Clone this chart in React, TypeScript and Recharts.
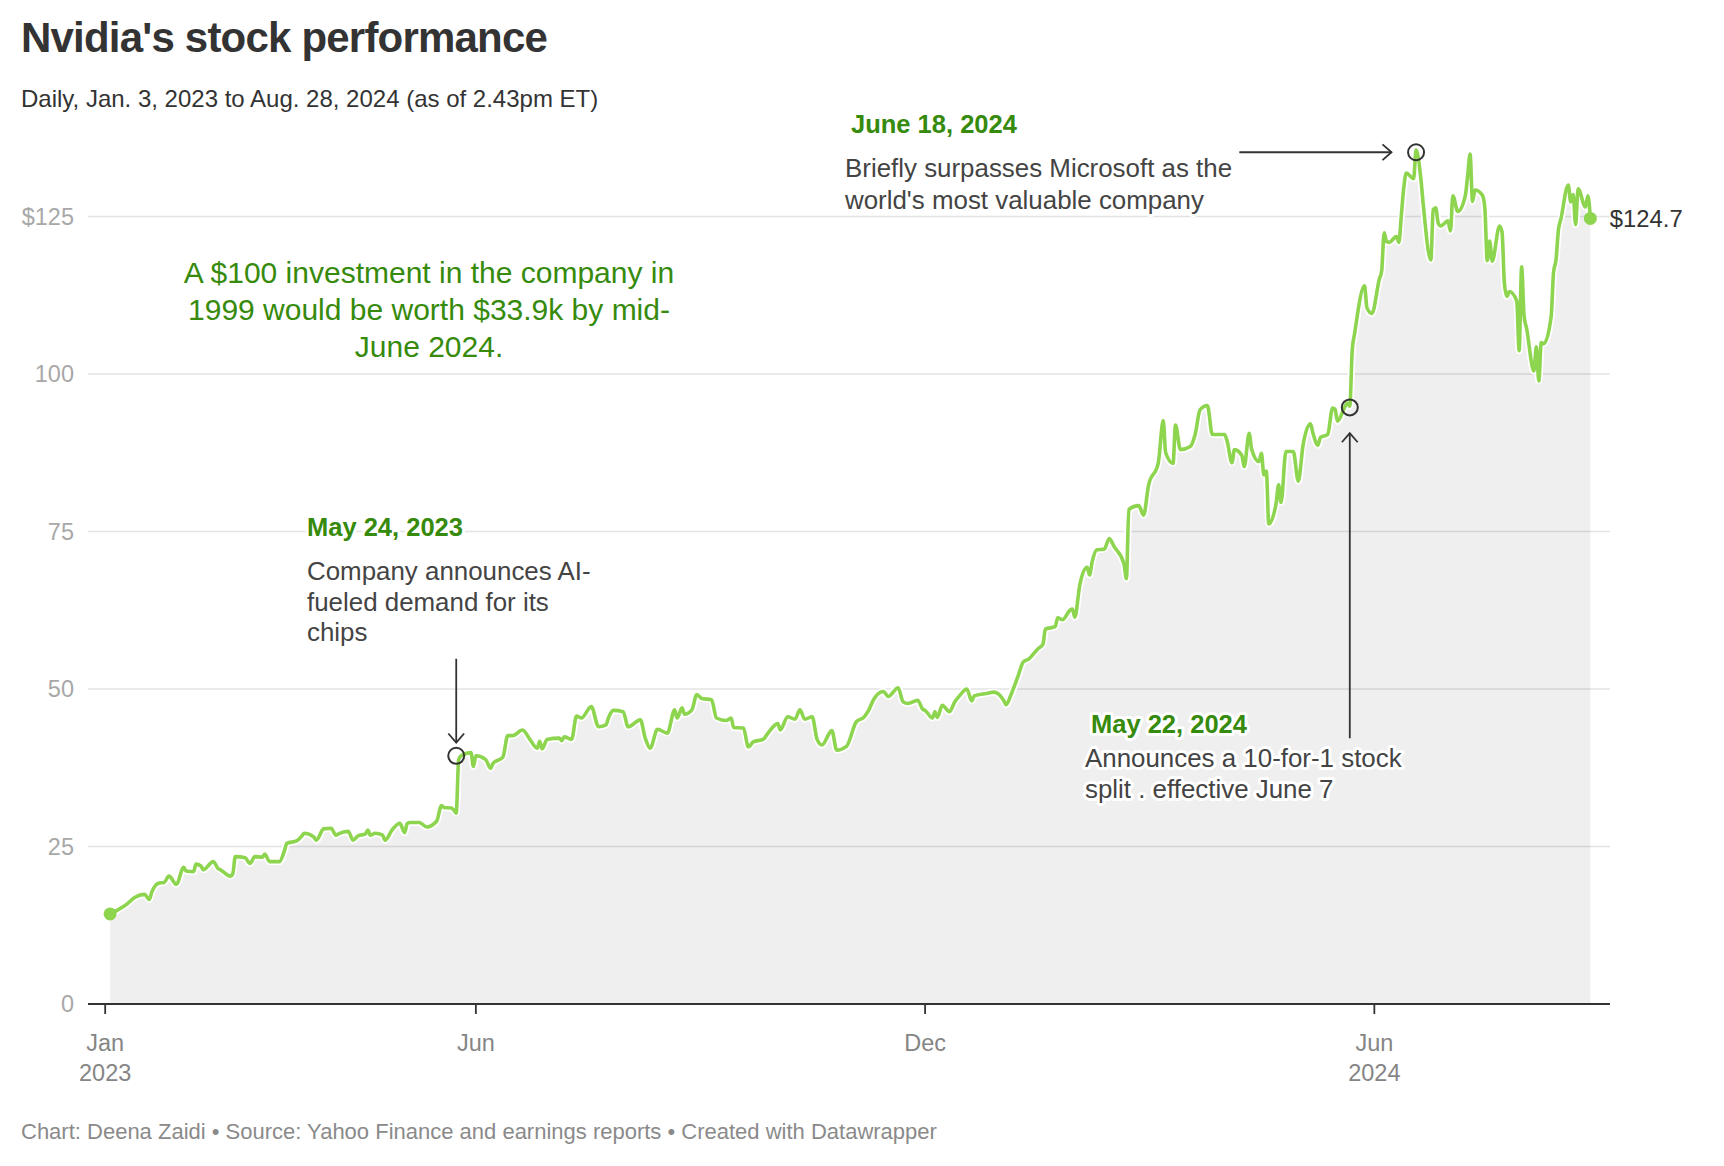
import {
  Area,
  CartesianGrid,
  ComposedChart,
  Line,
  ReferenceDot,
  ReferenceLine,
  XAxis,
  YAxis,
} from 'recharts';

const FONT = "'Liberation Sans', Arial, Helvetica, sans-serif";
const LINE_GREEN = '#8dd44f';
const TEXT_GREEN = '#368a0c';

// daily closes (split-adjusted)
const dates = [
  '2023-01-03', '2023-01-06', '2023-01-10', '2023-01-13', '2023-01-17', '2023-01-19', '2023-01-20', '2023-01-23',
  '2023-01-25', '2023-01-27', '2023-01-30', '2023-02-02', '2023-02-03', '2023-02-06', '2023-02-07', '2023-02-09',
  '2023-02-10', '2023-02-14', '2023-02-16', '2023-02-17', '2023-02-21', '2023-02-22', '2023-02-23', '2023-02-27',
  '2023-03-01', '2023-03-03', '2023-03-06', '2023-03-07', '2023-03-09', '2023-03-13', '2023-03-15', '2023-03-16',
  '2023-03-20', '2023-03-22', '2023-03-23', '2023-03-27', '2023-03-28', '2023-03-31', '2023-04-03', '2023-04-05',
  '2023-04-06', '2023-04-10', '2023-04-12', '2023-04-14', '2023-04-17', '2023-04-18', '2023-04-19', '2023-04-21',
  '2023-04-24', '2023-04-25', '2023-04-28', '2023-05-01', '2023-05-03', '2023-05-04', '2023-05-05', '2023-05-09',
  '2023-05-12', '2023-05-16', '2023-05-18', '2023-05-19', '2023-05-22', '2023-05-23', '2023-05-24', '2023-05-25',
  '2023-05-26', '2023-05-30', '2023-05-31', '2023-06-01', '2023-06-05', '2023-06-07', '2023-06-08', '2023-06-12',
  '2023-06-14', '2023-06-16', '2023-06-20', '2023-06-23', '2023-06-26', '2023-06-27', '2023-06-28', '2023-06-30',
  '2023-07-05', '2023-07-06', '2023-07-07', '2023-07-10', '2023-07-12', '2023-07-14', '2023-07-18', '2023-07-21',
  '2023-07-24', '2023-07-25', '2023-07-27', '2023-07-31', '2023-08-02', '2023-08-07', '2023-08-09', '2023-08-11',
  '2023-08-14', '2023-08-18', '2023-08-21', '2023-08-22', '2023-08-24', '2023-08-25', '2023-08-28', '2023-08-30',
  '2023-09-01', '2023-09-05', '2023-09-07', '2023-09-11', '2023-09-13', '2023-09-14', '2023-09-18', '2023-09-20',
  '2023-09-22', '2023-09-26', '2023-09-28', '2023-10-02', '2023-10-03', '2023-10-06', '2023-10-09', '2023-10-11',
  '2023-10-13', '2023-10-16', '2023-10-18', '2023-10-20', '2023-10-24', '2023-10-26', '2023-10-30', '2023-11-03',
  '2023-11-06', '2023-11-08', '2023-11-10', '2023-11-14', '2023-11-16', '2023-11-20', '2023-11-22', '2023-11-24',
  '2023-11-28', '2023-11-30', '2023-12-01', '2023-12-04', '2023-12-05', '2023-12-06', '2023-12-08', '2023-12-11',
  '2023-12-13', '2023-12-15', '2023-12-18', '2023-12-20', '2023-12-21', '2023-12-26', '2023-12-29', '2024-01-02',
  '2024-01-03', '2024-01-05', '2024-01-08', '2024-01-10', '2024-01-12', '2024-01-16', '2024-01-18', '2024-01-19',
  '2024-01-23', '2024-01-24', '2024-01-26', '2024-01-29', '2024-01-30', '2024-01-31', '2024-02-02', '2024-02-05',
  '2024-02-06', '2024-02-07', '2024-02-09', '2024-02-12', '2024-02-14', '2024-02-16', '2024-02-20', '2024-02-21',
  '2024-02-22', '2024-02-26', '2024-02-28', '2024-03-01', '2024-03-05', '2024-03-07', '2024-03-08', '2024-03-11',
  '2024-03-12', '2024-03-14', '2024-03-18', '2024-03-20', '2024-03-22', '2024-03-25', '2024-03-27', '2024-04-01',
  '2024-04-02', '2024-04-04', '2024-04-05', '2024-04-08', '2024-04-09', '2024-04-11', '2024-04-12', '2024-04-15',
  '2024-04-16', '2024-04-17', '2024-04-18', '2024-04-19', '2024-04-22', '2024-04-23', '2024-04-24', '2024-04-26',
  '2024-04-29', '2024-05-01', '2024-05-03', '2024-05-06', '2024-05-07', '2024-05-09', '2024-05-10', '2024-05-13',
  '2024-05-15', '2024-05-16', '2024-05-17', '2024-05-20', '2024-05-21', '2024-05-22', '2024-05-23', '2024-05-24',
  '2024-05-28', '2024-05-29', '2024-05-31', '2024-06-03', '2024-06-04', '2024-06-05', '2024-06-06', '2024-06-07',
  '2024-06-10', '2024-06-11', '2024-06-12', '2024-06-13', '2024-06-14', '2024-06-17', '2024-06-18', '2024-06-20',
  '2024-06-21', '2024-06-24', '2024-06-25', '2024-06-26', '2024-06-27', '2024-06-28', '2024-07-01', '2024-07-02',
  '2024-07-03', '2024-07-05', '2024-07-08', '2024-07-09', '2024-07-10', '2024-07-11', '2024-07-12', '2024-07-15',
  '2024-07-16', '2024-07-17', '2024-07-18', '2024-07-19', '2024-07-22', '2024-07-23', '2024-07-24', '2024-07-25',
  '2024-07-26', '2024-07-29', '2024-07-30', '2024-07-31', '2024-08-01', '2024-08-02', '2024-08-05', '2024-08-06',
  '2024-08-07', '2024-08-08', '2024-08-09', '2024-08-12', '2024-08-13', '2024-08-14', '2024-08-15', '2024-08-16',
  '2024-08-19', '2024-08-20', '2024-08-21', '2024-08-22', '2024-08-23', '2024-08-26', '2024-08-27', '2024-08-28',
];

const prices = [
  14.3, 14.9, 15.9, 16.9, 17.4, 16.6, 17.8, 19.2,
  19.3, 20.3, 19.0, 21.7, 21.1, 21.0, 22.2, 21.9,
  21.3, 22.6, 21.5, 21.3, 20.3, 20.7, 23.4, 23.2,
  22.3, 23.4, 23.3, 23.8, 22.6, 22.6, 24.3, 25.5,
  25.9, 26.6, 27.1, 26.5, 26.0, 27.8, 27.9, 26.8,
  27.0, 27.4, 26.0, 26.7, 27.0, 27.6, 26.8, 27.1,
  26.8, 26.0, 27.7, 28.7, 27.2, 28.6, 28.8, 28.8,
  28.1, 29.0, 31.5, 31.2, 31.1, 30.8, 30.3, 38.8,
  39.4, 39.9, 37.7, 39.4, 38.8, 37.4, 38.2, 39.2,
  42.6, 42.6, 43.5, 42.0, 40.6, 41.7, 40.5, 42.0,
  42.2, 41.8, 42.4, 42.0, 45.7, 45.4, 47.2, 44.0,
  44.3, 45.4, 46.6, 46.4, 44.0, 45.1, 42.2, 40.6,
  43.6, 43.0, 46.7, 45.4, 47.0, 46.0, 46.7, 49.1,
  48.5, 48.3, 45.4, 45.0, 45.4, 43.9, 43.8, 40.8,
  41.6, 42.0, 43.0, 44.5, 43.5, 45.6, 45.2, 46.7,
  45.2, 45.6, 42.0, 41.1, 43.4, 40.3, 40.9, 44.8,
  45.5, 46.6, 48.3, 49.6, 48.8, 50.2, 48.0, 47.7,
  48.2, 46.8, 46.6, 45.4, 46.4, 45.5, 47.4, 46.4,
  47.9, 48.9, 50.0, 48.1, 48.9, 49.3, 49.5, 48.2,
  47.5, 49.1, 52.2, 54.3, 54.7, 56.4, 57.1, 59.5,
  59.9, 61.3, 61.0, 62.5, 62.7, 61.4, 66.5, 69.3,
  68.1, 70.1, 72.1, 72.2, 73.9, 72.6, 69.9, 67.5,
  78.5, 79.1, 77.6, 82.3, 85.9, 92.6, 87.5, 85.8,
  91.9, 88.0, 88.5, 90.4, 94.3, 95.0, 90.4, 90.4,
  89.4, 85.9, 88.0, 87.1, 85.3, 90.6, 88.1, 86.1,
  87.4, 84.0, 84.6, 76.2, 79.5, 82.4, 79.6, 87.7,
  87.7, 83.0, 88.8, 92.1, 90.6, 88.7, 89.9, 90.4,
  94.6, 94.4, 92.5, 94.8, 95.4, 94.9, 103.8, 106.5,
  114.0, 110.5, 109.6, 115.0, 116.4, 122.4, 121.0, 120.9,
  121.8, 120.9, 125.2, 129.6, 131.9, 131.0, 135.6, 130.8,
  126.6, 118.1, 126.1, 126.4, 124.0, 123.5, 124.3, 122.7,
  128.3, 125.8, 128.2, 131.4, 134.9, 127.4, 129.2, 128.4,
  126.4, 118.0, 121.1, 117.9, 123.5, 122.6, 114.3, 112.3,
  113.1, 111.6, 103.7, 117.0, 109.2, 107.3, 100.5, 104.3,
  98.9, 105.0, 104.8, 109.0, 116.1, 118.1, 122.9, 124.6,
  130.0, 127.3, 128.5, 123.7, 129.4, 126.5, 128.3, 124.7,
];

const xTicks = ['2023-01-01', '2023-06-01', '2023-12-01', '2024-06-01'];
const xTickLabels = [['Jan', '2023'], ['Jun'], ['Dec'], ['Jun', '2024']];
const yTicks = [0, 25, 50, 75, 100, 125];
const yTickLabels = ['0', '25', '50', '75', '100', '$125'];
const gridValues = [25, 50, 75, 100, 125];

// annotated days: circle positions
const markerDates = ['2023-05-24', '2024-05-22', '2024-06-18'];
const markerValues = [39.4, 94.7, 135.2];

// annotation arrows: start -> tip (date, value)
const arrowStartDates = ['2023-05-24', '2024-05-22', '2024-04-07'];
const arrowStartValues = [54.8, 42.2, 135.2];
const arrowEndDates = ['2023-05-24', '2024-05-22', '2024-06-08'];
const arrowEndValues = [41.5, 90.6, 135.2];

const toTime = (d: string) => Date.parse(d);

const chartData = dates.map((d, i) => ({ t: toTime(d), price: prices[i] }));
const xTickValues = xTicks.map(toTime);
const lastPoint = chartData[chartData.length - 1];

function XTick({ x, y, payload }: any) {
  const idx = xTickValues.indexOf(payload.value);
  const lines = xTickLabels[idx] || [];
  return (
    <g>
      {lines.map((txt, i) => (
        <text
          key={txt}
          x={x}
          y={y + 37 + i * 30}
          textAnchor="middle"
          fontFamily={FONT}
          fontSize={23.5}
          fill="#858585"
        >
          {txt}
        </text>
      ))}
    </g>
  );
}

function YTick({ x, y, payload }: any) {
  const idx = yTicks.indexOf(payload.value);
  return (
    <text x={x} y={y + 8} textAnchor="end" fontFamily={FONT} fontSize={23.5} fill="#a8a8a8">
      {yTickLabels[idx]}
    </text>
  );
}

function Arrow(props: any) {
  const { x1, y1, x2, y2 } = props;
  const ang = Math.atan2(y2 - y1, x2 - x1);
  const len = 12;
  const spread = 0.72;
  const ax = x2 - len * Math.cos(ang - spread);
  const ay = y2 - len * Math.sin(ang - spread);
  const bx = x2 - len * Math.cos(ang + spread);
  const by = y2 - len * Math.sin(ang + spread);
  return (
    <g>
      <line x1={x1} y1={y1} x2={x2} y2={y2} stroke="#333" strokeWidth={1.8} />
      <polyline
        points={`${ax},${ay} ${x2},${y2} ${bx},${by}`}
        fill="none"
        stroke="#333"
        strokeWidth={1.8}
      />
    </g>
  );
}

function EndDot({ cx, cy }: any) {
  return (
    <g>
      <circle cx={cx} cy={cy} r={6.5} fill={LINE_GREEN} />
      <text x={cx + 19.5} y={cy + 8.4} fontFamily={FONT} fontSize={23.8} fill="#333">
        ${lastPoint.price}
      </text>
    </g>
  );
}

const halo = { stroke: '#fff', strokeWidth: 6, paintOrder: 'stroke' as const, strokeLinejoin: 'round' as const };

export default function App() {
  return (
    <div style={{ position: 'relative', width: 1724, height: 1166, background: '#fff' }}>
      <style>{'body{margin:0}'}</style>
      <ComposedChart
        width={1724}
        height={1166}
        data={chartData}
        margin={{ top: 122, right: 114, bottom: 102, left: 0 }}
      >
        <CartesianGrid vertical={false} horizontalValues={gridValues} stroke="#e3e3e3" strokeWidth={1.4} />
        <XAxis
          dataKey="t"
          type="number"
          domain={[toTime('2022-12-25'), toTime('2024-09-05')]}
          ticks={xTickValues}
          height={60}
          axisLine={{ stroke: '#333', strokeWidth: 2 }}
          tickLine={{ stroke: '#333', strokeWidth: 1.8 }}
          tickSize={10}
          tickMargin={0}
          tick={<XTick />}
          interval={0}
        />
        <YAxis
          type="number"
          domain={[0, 140]}
          ticks={yTicks}
          width={88}
          axisLine={false}
          tickLine={false}
          tickSize={0}
          tickMargin={14}
          tick={<YTick />}
          interval={0}
        />
        <Area
          type="monotone"
          dataKey="price"
          fill="#000"
          fillOpacity={0.063}
          stroke="none"
          isAnimationActive={false}
        />
        <Line
          type="monotone"
          dataKey="price"
          stroke="#fff"
          strokeWidth={7}
          dot={false}
          activeDot={false}
          isAnimationActive={false}
        />
        <Line
          type="monotone"
          dataKey="price"
          stroke={LINE_GREEN}
          strokeWidth={3.6}
          strokeLinejoin="round"
          dot={false}
          activeDot={false}
          isAnimationActive={false}
        />
        {arrowStartDates.map((d, i) => (
          <ReferenceLine
            key={`arrow-${i}`}
            segment={[
              { x: toTime(d), y: arrowStartValues[i] },
              { x: toTime(arrowEndDates[i]), y: arrowEndValues[i] },
            ]}
            shape={<Arrow />}
          />
        ))}
        {markerDates.map((d, i) => (
          <ReferenceDot
            key={`marker-${i}`}
            x={toTime(d)}
            y={markerValues[i]}
            r={8}
            fill="none"
            stroke="#333"
            strokeWidth={2}
          />
        ))}
        <ReferenceDot x={chartData[0].t} y={chartData[0].price} r={6.5} fill={LINE_GREEN} stroke="none" />
        <ReferenceDot x={lastPoint.t} y={lastPoint.price} r={6.5} shape={<EndDot />} />
      </ComposedChart>

      <svg
        width={1724}
        height={1166}
        style={{ position: 'absolute', left: 0, top: 0, pointerEvents: 'none' }}
        fontFamily={FONT}
      >
        <text x={21} y={52} fontSize={42} fontWeight="bold" fill="#333" letterSpacing={-0.8}>
          Nvidia's stock performance
        </text>
        <text x={21} y={106.5} fontSize={24} fill="#333">
          Daily, Jan. 3, 2023 to Aug. 28, 2024 (as of 2.43pm ET)
        </text>

        <g fontSize={30} fill={TEXT_GREEN} textAnchor="middle">
          <text x={429} y={283}>A $100 investment in the company in</text>
          <text x={429} y={320}>1999 would be worth $33.9k by mid-</text>
          <text x={429} y={356.5}>June 2024.</text>
        </g>

        <text x={307} y={536} fontSize={25.5} fontWeight="bold" fill={TEXT_GREEN} {...halo}>
          May 24, 2023
        </text>
        <g fontSize={25.9} fill="#444" {...halo}>
          <text x={307} y={580}>Company announces AI-</text>
          <text x={307} y={610.5}>fueled demand for its</text>
          <text x={307} y={641}>chips</text>
        </g>

        <text x={851} y={133} fontSize={25.5} fontWeight="bold" fill={TEXT_GREEN} {...halo}>
          June 18, 2024
        </text>
        <g fontSize={25.9} fill="#444" {...halo}>
          <text x={845} y={177}>Briefly surpasses Microsoft as the</text>
          <text x={845} y={208.5}>world's most valuable company</text>
        </g>

        <text x={1091} y={733} fontSize={25.5} fontWeight="bold" fill={TEXT_GREEN} {...halo}>
          May 22, 2024
        </text>
        <g fontSize={25.9} fill="#444" {...halo}>
          <text x={1085} y={767}>Announces a 10-for-1 stock</text>
          <text x={1085} y={798}>split . effective June 7</text>
        </g>

        <text x={21} y={1138.5} fontSize={22} fill="#8a8a8a">
          Chart: Deena Zaidi • Source: Yahoo Finance and earnings reports • Created with Datawrapper
        </text>
      </svg>
    </div>
  );
}
